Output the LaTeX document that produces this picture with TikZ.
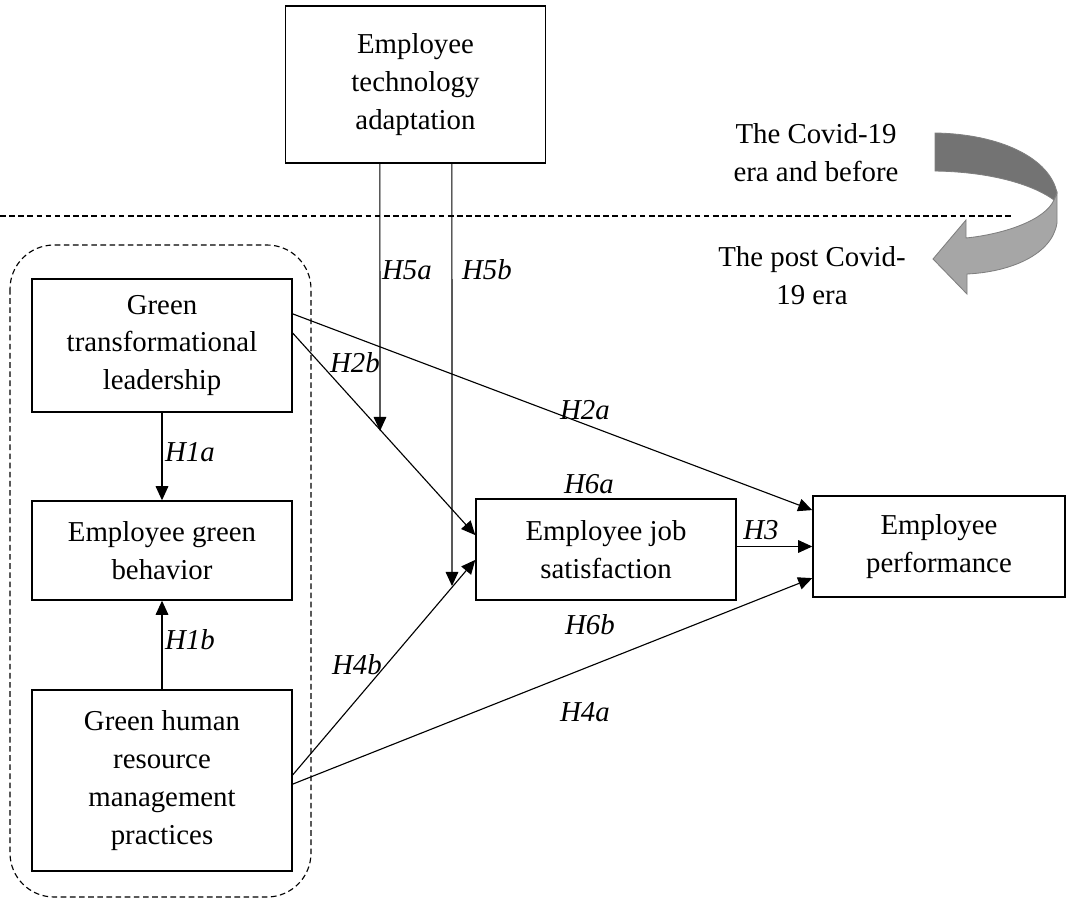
\documentclass[tikz,border=0pt]{standalone}
\usepackage{fontspec}
\setmainfont{Liberation Serif}
\usepackage{tikz}
\usetikzlibrary{arrows.meta, positioning, calc}
\definecolor{bandDark}{HTML}{737373}
\definecolor{bandLight}{HTML}{A6A6A6}
\definecolor{bandEdge}{HTML}{7F7F7F}
\tikzstyle{arrow} = [line width=0.8pt, -{Triangle[length=10pt, width=9pt]}]
\tikzstyle{box} = [draw, line width=1pt, align=center, inner sep=2pt]
\tikzstyle{hyp} = [font=\fontsize{20.5}{27}\selectfont\itshape]
\tikzstyle{split} = [line width=0.8pt, dash pattern=on 4pt off 2.5pt]

\begin{document}
\begin{tikzpicture}[x=0.025cm, y=-0.025cm, font=\fontsize{20.5}{27}\selectfont]
    \useasboundingbox (0,0) rectangle (1068,901);

    % era split
    \draw[split] (0,216) -- (1013,216);
    \draw[split, rounded corners=1.1cm] (10,245) rectangle (311,897);

    \node[box, minimum width=6.5cm, minimum height=3.925cm] (eta) at (415.5,84.5) {Employee\\technology\\adaptation};
    \node[box, minimum width=6.5cm, minimum height=3.325cm] (gtl) at (162,345.5) {Green\\transformational\\leadership};
    \node[box, minimum width=6.5cm, minimum height=2.475cm] (egb) at (162,550.5) {Employee green\\behavior};
    \node[box, minimum width=6.5cm, minimum height=4.525cm] (ghrm) at (162,780.5) {Green human\\resource\\management\\practices};
    \node[box, minimum width=6.5cm, minimum height=2.525cm] (ejs) at (606,549.5) {Employee job\\satisfaction};
    \node[box, minimum width=6.3cm, minimum height=2.525cm] (ep) at (939,546.5) {Employee\\performance};

    \node[align=center] (before) at (816,153) {The Covid-19\\era and before};
    \node[align=center] (after) at (812,276) {The post Covid-\\19 era};

    % curved era arrow
    \fill[bandDark, draw=bandEdge, line width=0.6pt] (935,133) .. controls (1000,134) and (1050,158) .. (1057,193)
        -- (1054,200) .. controls (1035,186) and (995,172) .. (935,171) -- cycle;
    \fill[bandLight, draw=bandEdge, line width=0.6pt] (1057,193) -- (1057,223) .. controls (1052,255) and (1010,272) .. (967,274)
        -- (967,294) -- (933,259) -- (966,220) -- (966,238) .. controls (1005,234) and (1045,220) .. (1054,200) -- cycle;

    \coordinate (m5a) at (380,431);
    \coordinate (m5b) at (452,586);

    \draw[arrow] (gtl) -- (egb);
    \draw[arrow] (ghrm) -- (egb);
    \draw[arrow] ([yshift=0.79cm]gtl.east) -- ([yshift=0.91cm]ep.west);
    \draw[arrow] ([yshift=0.31cm]gtl.east) -- ([yshift=0.36cm]ejs.west);
    \draw[arrow] (ejs.east |- ep.west) -- (ep.west);
    \draw[arrow] ([yshift=0.14cm]ghrm.east) -- ([yshift=-0.26cm]ejs.west);
    \draw[arrow] ([yshift=-0.09cm]ghrm.east) -- ([yshift=-0.79cm]ep.west);
    \draw[arrow] ([xshift=-0.89cm]eta.south) -- (m5a);
    \draw[arrow] ([xshift=0.91cm]eta.south) -- (m5b);

    \node[hyp] (h1a) at (190,452) {H1a};
    \node[hyp] (h1b) at (190,640) {H1b};
    \node[hyp] (h2a) at (585,410) {H2a};
    \node[hyp] (h2b) at (355,363) {H2b};
    \node[hyp] (h3) at (761,530) {H3};
    \node[hyp] (h4a) at (585,712) {H4a};
    \node[hyp] (h4b) at (357,665) {H4b};
    \node[hyp] (h5a) at (407,270) {H5a};
    \node[hyp] (h5b) at (487,270) {H5b};
    \node[hyp] (h6a) at (589,484) {H6a};
    \node[hyp] (h6b) at (590,625) {H6b};
\end{tikzpicture}
\end{document}
